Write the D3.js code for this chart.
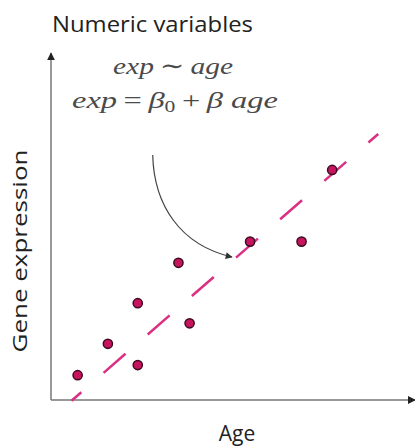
<!DOCTYPE html>
<html><head><meta charset="utf-8">
<script src="https://cdn.jsdelivr.net/npm/d3@7"></script>
<style>body{margin:0;background:#fff}svg{display:block}</style>
</head><body>
<script>
// ---- data ----
const ages = [0.74, 1.58, 2.41, 2.41, 3.54, 3.85, 5.53, 6.96, 7.81];
const expression = [0.69, 1.56, 0.97, 2.69, 3.81, 2.13, 4.40, 4.40, 6.39];
const fitX = [0.57, 9.09];
const fitY = [-0.02, 7.39];
const title = "Numeric variables";
const xLabel = "Age";
const yLabel = "Gene expression";

const W = 415, H = 447;
const svg = d3.select("body").append("svg").attr("width", W).attr("height", H);

const x = d3.scaleLinear().domain([0, 10]).range([51, 411]);
const y = d3.scaleLinear().domain([0, 10]).range([400, 40]);

const defs = svg.append("defs");
defs.append("marker").attr("id", "axArrow").attr("viewBox", "0 0 10 10")
  .attr("refX", 9).attr("refY", 5).attr("markerWidth", 8).attr("markerHeight", 8)
  .attr("markerUnits", "userSpaceOnUse").attr("orient", "auto")
  .append("path").attr("d", "M0,0 L10,5 L0,10 Z").attr("fill", "#222");
defs.append("marker").attr("id", "curveArrow").attr("viewBox", "0 0 10 10")
  .attr("refX", 9).attr("refY", 5).attr("markerWidth", 10).attr("markerHeight", 7)
  .attr("markerUnits", "userSpaceOnUse").attr("orient", "auto")
  .append("path").attr("d", "M0,0 L10,5 L0,10 Z").attr("fill", "#333");

// axes (no ticks)
const gx = svg.append("g").attr("transform", `translate(0,${y(0)})`)
  .call(d3.axisBottom(x).tickValues([]).tickSizeOuter(0));
gx.select(".domain").attr("stroke", "#777").attr("stroke-width", 1.5)
  .attr("d", `M${x(0)},0H${W}`).attr("marker-end", "url(#axArrow)");
const gy = svg.append("g").attr("transform", `translate(${x(0)},0)`)
  .call(d3.axisLeft(y).tickValues([]).tickSizeOuter(0));
gy.select(".domain").attr("stroke", "#777").attr("stroke-width", 1.5)
  .attr("d", `M0,${y(0)}V53`).attr("marker-end", "url(#axArrow)");

// fitted dashed line
const fit = fitX.map((v, i) => [v, fitY[i]]);
svg.append("path").datum(fit)
  .attr("d", d3.line().x(d => x(d[0])).y(d => y(d[1])))
  .attr("fill", "none").attr("stroke", "#da2f82").attr("stroke-width", 2.5)
  .attr("stroke-dasharray", "29,29.5").attr("stroke-dashoffset", 16);

// curved arrow annotation
svg.append("path")
  .attr("d", "M152.7,155 C154,205 180,245 232,257")
  .attr("fill", "none").attr("stroke", "#444").attr("stroke-width", 1.2)
  .attr("marker-end", "url(#curveArrow)");

// points
svg.selectAll("circle.pt").data(ages.map((a, i) => [a, expression[i]]))
  .join("circle").attr("class", "pt")
  .attr("cx", d => x(d[0])).attr("cy", d => y(d[1])).attr("r", 4.6)
  .attr("fill", "#c7145e").attr("stroke", "#3d0b20").attr("stroke-width", 1.5);

// texts
const sans = "'Open Sans', 'Noto Sans', sans-serif";
svg.append("text").attr("x", 52).attr("y", 32).text(title)
  .attr("font-family", sans).attr("font-size", 22).attr("fill", "#222")
  .attr("textLength", 201).attr("lengthAdjust", "spacingAndGlyphs");
svg.append("text").attr("x", 237).attr("y", 441).attr("text-anchor", "middle").text(xLabel)
  .attr("font-family", sans).attr("font-size", 21).attr("fill", "#222");
svg.append("text").attr("transform", "translate(27,251) rotate(-90)")
  .attr("text-anchor", "middle").text(yLabel)
  .attr("font-family", sans).attr("font-size", 20).attr("fill", "#222")
  .attr("textLength", 203).attr("lengthAdjust", "spacingAndGlyphs");

const serif = "'Liberation Serif', 'DejaVu Serif', serif";
const f1 = svg.append("text").attr("x", 173).attr("y", 74).attr("text-anchor", "middle")
  .attr("font-family", serif).attr("font-size", 24).attr("fill", "#4a4a4a")
  .attr("textLength", 120).attr("lengthAdjust", "spacingAndGlyphs");
f1.append("tspan").attr("font-style", "italic").text("exp");
f1.append("tspan").text("\u2009∼\u2009");
f1.append("tspan").attr("font-style", "italic").text("age");

const f2 = svg.append("text").attr("x", 175).attr("y", 108).attr("text-anchor", "middle")
  .attr("font-family", serif).attr("font-size", 24).attr("fill", "#4a4a4a")
  .attr("textLength", 206).attr("lengthAdjust", "spacingAndGlyphs");
f2.append("tspan").attr("font-style", "italic").text("exp");
f2.append("tspan").text("\u2009=\u2009");
f2.append("tspan").attr("font-style", "italic").text("β");
f2.append("tspan").attr("font-size", 16).attr("dy", 4).text("0");
f2.append("tspan").attr("dy", -4).text("\u2009+\u2009");
f2.append("tspan").attr("font-style", "italic").text("β ");
f2.append("tspan").attr("font-style", "italic").text("age");
</script>
</body></html>
